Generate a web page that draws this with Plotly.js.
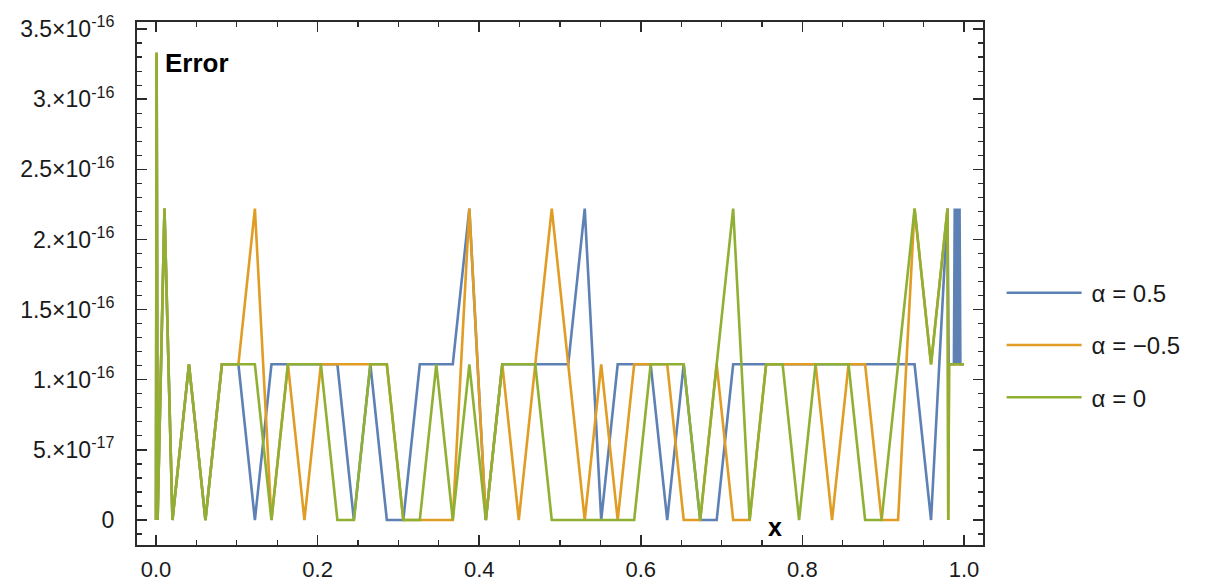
<!DOCTYPE html>
<html>
<head>
<meta charset="utf-8">
<script src="https://cdn.plot.ly/plotly-3.0.1.min.js"></script>
<style>
  html, body { margin: 0; padding: 0; background: #fff; }
  #chart { width: 1226px; height: 588px; }
</style>
</head>
<body>
<div id="chart"></div>
<script>
// sample points (shared by all three runs up to x = 48/49)
const xNodes = [0, 0.0008, 0.002, 0.0105,
  0.0204, 0.0408, 0.0612, 0.0816, 0.1020, 0.1224, 0.1429, 0.1633, 0.1837, 0.2041,
  0.2245, 0.2449, 0.2653, 0.2857, 0.3061, 0.3265, 0.3469, 0.3673, 0.3878, 0.4082,
  0.4286, 0.4490, 0.4694, 0.4898, 0.5102, 0.5306, 0.5510, 0.5714, 0.5918, 0.6122,
  0.6327, 0.6531, 0.6735, 0.6939, 0.7143, 0.7347, 0.7551, 0.7755, 0.7959, 0.8163,
  0.8367, 0.8571, 0.8776, 0.8980, 0.9184, 0.9388, 0.9592, 0.9796];

// errors
const errBlue = [0, 3.33e-16, 0, 2.22e-16,
  0, 1.11e-16, 0, 1.11e-16, 1.11e-16, 0, 1.11e-16, 1.11e-16, 1.11e-16, 1.11e-16,
  1.11e-16, 0, 1.11e-16, 0, 0, 1.11e-16, 1.11e-16, 1.11e-16, 2.22e-16, 0,
  1.11e-16, 1.11e-16, 1.11e-16, 1.11e-16, 1.11e-16, 2.22e-16, 0, 1.11e-16, 1.11e-16, 1.11e-16,
  0, 1.11e-16, 0, 0, 1.11e-16, 1.11e-16, 1.11e-16, 1.11e-16, 1.11e-16, 1.11e-16,
  1.11e-16, 1.11e-16, 1.11e-16, 1.11e-16, 1.11e-16, 1.11e-16, 0, 2.22e-16];
const errOrange = [0, 3.33e-16, 0, 2.22e-16,
  0, 1.11e-16, 0, 1.11e-16, 1.11e-16, 2.22e-16, 0, 1.11e-16, 0, 1.11e-16,
  1.11e-16, 1.11e-16, 1.11e-16, 1.11e-16, 0, 0, 0, 0, 2.22e-16, 0,
  1.11e-16, 0, 1.11e-16, 2.22e-16, 1.11e-16, 0, 1.11e-16, 0, 1.11e-16, 1.11e-16,
  1.11e-16, 0, 0, 1.11e-16, 0, 0, 1.11e-16, 1.11e-16, 1.11e-16, 1.11e-16,
  0, 1.11e-16, 1.11e-16, 0, 0, 2.22e-16, 1.11e-16, 2.22e-16];
const errGreen = [0, 3.33e-16, 0, 2.22e-16,
  0, 1.11e-16, 0, 1.11e-16, 1.11e-16, 1.11e-16, 0, 1.11e-16, 1.11e-16, 1.11e-16,
  0, 0, 1.11e-16, 1.11e-16, 0, 0, 1.11e-16, 0, 1.11e-16, 0,
  1.11e-16, 1.11e-16, 1.11e-16, 0, 0, 0, 0, 0, 0, 1.11e-16,
  1.11e-16, 1.11e-16, 0, 1.11e-16, 2.22e-16, 0, 1.11e-16, 1.11e-16, 0, 1.11e-16,
  1.11e-16, 1.11e-16, 0, 0, 1.11e-16, 2.22e-16, 1.11e-16, 2.22e-16];

// last few points near x = 1
const xEndBlue = [0.981, 0.9875, 0.9885, 0.9895, 0.9905, 0.9915, 0.9925, 0.9935, 0.9945, 0.9955, 0.9965, 1.0];
const errEndBlue = [1.11e-16, 1.11e-16, 2.22e-16, 1.11e-16, 2.22e-16, 1.11e-16, 2.22e-16, 1.11e-16, 2.22e-16, 1.11e-16, 1.11e-16, 1.11e-16];
const xEndOther = [0.9805, 0.9815, 1.0];
const errEndOrange = [0, 1.11e-16, 1.11e-16];
const errEndGreen = [0, 1.11e-16, 1.11e-16];

const seriesNames = ['\u03b1 = 0.5', '\u03b1 = \u22120.5', '\u03b1 = 0'];
const seriesColors = ['#5e81b5', '#e19c24', '#8fb032'];

const xTickVals = [0, 0.2, 0.4, 0.6, 0.8, 1.0];
const xTickText = ['0.0', '0.2', '0.4', '0.6', '0.8', '1.0'];
const yTickVals = [0, 5e-17, 1e-16, 1.5e-16, 2e-16, 2.5e-16, 3e-16, 3.5e-16];
const yTickText = ['0', '5.\u00d710<sup>-17</sup>', '1.\u00d710<sup>-16</sup>', '1.5\u00d710<sup>-16</sup>',
  '2.\u00d710<sup>-16</sup>', '2.5\u00d710<sup>-16</sup>', '3.\u00d710<sup>-16</sup>', '3.5\u00d710<sup>-16</sup>'];

const font = 'Liberation Sans, Arial, Helvetica, sans-serif';
const axisColor = '#2b2b2b';

function makeTrace(xs, ys, i) {
    return {
        x: xs,
        y: ys,
        type: 'scatter',
        mode: 'lines',
        name: seriesNames[i],
        legendgroup: 'g' + i,
        line: { color: seriesColors[i], width: 2.6 }
    };
}

const data = [
    makeTrace(xNodes.concat(xEndBlue), errBlue.concat(errEndBlue), 0),
    makeTrace(xNodes.concat(xEndOther), errOrange.concat(errEndOrange), 1),
    makeTrace(xNodes.concat(xEndOther), errGreen.concat(errEndGreen), 2)
];

const layout = {
    width: 1226,
    height: 588,
    margin: { l: 137, r: 243, t: 22, b: 43 },
    paper_bgcolor: '#fff',
    plot_bgcolor: '#fff',
    font: { family: font, size: 23, color: '#1a1a1a' },
    showlegend: true,
    legend: {
        x: 1.022, xanchor: 'left',
        y: 0.382, yanchor: 'middle',
        font: { family: font, size: 24, color: '#1a1a1a' },
        itemwidth: 80,
        tracegroupgap: 18,
        bgcolor: 'rgba(0,0,0,0)'
    },
    xaxis: {
        range: [-0.0235, 1.0235],
        tickmode: 'array',
        tickvals: xTickVals,
        ticktext: xTickText,
        tickfont: { family: font, size: 22, color: '#1a1a1a' },
        ticks: 'inside',
        ticklen: 10,
        tickwidth: 1.5,
        tickcolor: axisColor,
        ticklabelstandoff: 4,
        showline: true,
        linecolor: axisColor,
        linewidth: 2,
        mirror: 'ticks',
        showgrid: false,
        zeroline: false,
        minor: { tickmode: 'linear', tick0: 0, dtick: 0.05, ticks: 'inside', ticklen: 5, tickwidth: 1.2, tickcolor: axisColor, showgrid: false }
    },
    yaxis: {
        range: [-0.178e-16, 3.55e-16],
        tickmode: 'array',
        tickvals: yTickVals,
        ticktext: yTickText,
        ticks: 'inside',
        ticklen: 10,
        tickwidth: 1.5,
        tickcolor: axisColor,
        ticklabelstandoff: 16,
        showline: true,
        linecolor: axisColor,
        linewidth: 2,
        mirror: 'ticks',
        showgrid: false,
        zeroline: false,
        minor: { tickmode: 'linear', tick0: 0, dtick: 1e-17, ticks: 'inside', ticklen: 5, tickwidth: 1.2, tickcolor: axisColor, showgrid: false }
    },
    annotations: [
        { text: '<b>Error</b>', xref: 'paper', yref: 'paper', x: 0.031, y: 0.922, xanchor: 'left', yanchor: 'middle',
          showarrow: false, font: { family: font, size: 26, color: '#000' } },
        { text: '<b>x</b>', xref: 'paper', yref: 'paper', x: 0.754, y: 0.034, xanchor: 'center', yanchor: 'middle',
          showarrow: false, font: { family: font, size: 25, color: '#000' } }
    ]
};

Plotly.newPlot('chart', data, layout, { displayModeBar: false, staticPlot: true }).then(function (gd) {
    // longer legend line samples, as in the original
    gd.querySelectorAll('.legendlines path').forEach(function (p) {
        p.setAttribute('d', 'M5,0h75');
    });
});
</script>
</body>
</html>
